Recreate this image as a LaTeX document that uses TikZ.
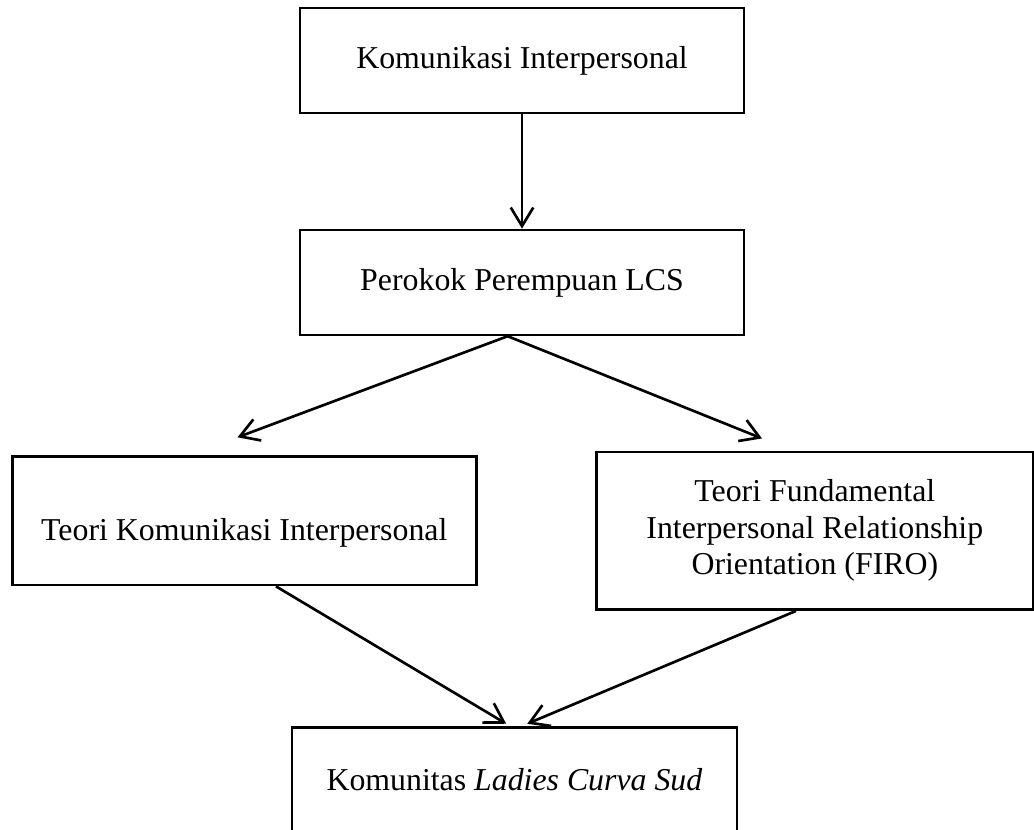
\documentclass[tikz,border=0pt]{standalone}
\usepackage{fontspec}
\setmainfont{Liberation Serif}
\usetikzlibrary{positioning, arrows.meta}

\begin{document}
\begin{tikzpicture}[node distance=3cm, on grid, line width=1pt,
    >={Straight Barb[length=7pt,width=8.5pt]},
    box/.style={draw, rectangle, align=center, inner sep=0pt,
        font=\fontsize{12}{13.8}\selectfont}]
    \useasboundingbox (-6.917,0.802) rectangle (6.784,-10.183);
    \node[box, minimum width=5.88cm, minimum height=1.39cm] (kom) {Komunikasi Interpersonal};
    \node[box, minimum width=5.88cm, minimum height=1.39cm] (perokok) [below=2.94cm of kom] {Perokok Perempuan LCS};
    \node[box, minimum width=6.15cm, minimum height=1.70cm, text height=15pt, text depth=0pt] (teori) [below left=3.16cm and 3.68cm of perokok] {Teori Komunikasi Interpersonal};
    \node[box, minimum width=5.79cm, minimum height=2.09cm] (firo) [below right=3.29cm and 3.88cm of perokok] {Teori Fundamental\\Interpersonal Relationship\\Orientation (FIRO)};
    \node[box, minimum width=5.90cm, minimum height=1.39cm] (lcs) [below=6.59cm of perokok, xshift=-0.1cm] {Komunitas \textit{Ladies Curva Sud}};

    \coordinate (outP) at ([xshift=-0.19cm]perokok.south);
    \coordinate (inT) at ([xshift=-0.09cm, yshift=0.24cm]teori.north);
    \coordinate (inF) at ([xshift=-0.70cm, yshift=0.16cm]firo.north);
    \coordinate (outT) at ([xshift=0.42cm]teori.south);
    \coordinate (outF) at ([xshift=-0.25cm]firo.south);
    \coordinate (inL) at ([xshift=-0.11cm, yshift=0.03cm]lcs.north);
    \coordinate (inR) at ([xshift=0.17cm, yshift=0.03cm]lcs.north);

        \path[->]
        (kom)   edge (perokok)
        (outP)  edge (inT)
                edge (inF)
        (outT)  edge (inL)
        (outF)  edge (inR);

\end{tikzpicture}
\end{document}
